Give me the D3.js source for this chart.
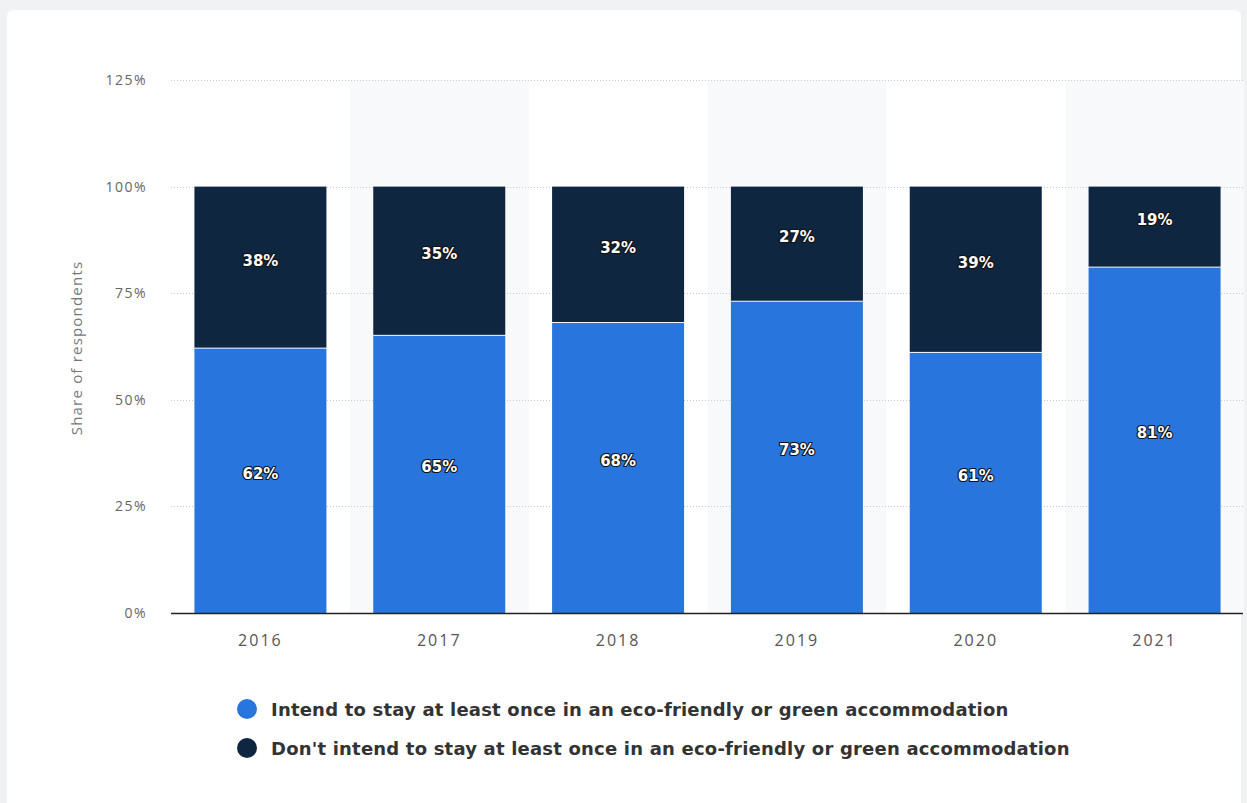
<!DOCTYPE html>
<html>
<head>
<meta charset="utf-8">
<script src="https://cdn.jsdelivr.net/npm/d3@7"></script>
<style>
	body { margin: 0; background: #f1f2f4; }
	#root { width: 1247px; height: 803px; }
</style>
</head>
<body>
<div id="root"></div>
<script>
//chart values
const years = ["2016", "2017", "2018", "2019", "2020", "2021"];
const intendValues = [62, 65, 68, 73, 61, 81];
const dontIntendValues = [38, 35, 32, 27, 39, 19];
const yTicks = [0, 25, 50, 75, 100, 125];
const seriesNames = [
	"Intend to stay at least once in an eco-friendly or green accommodation",
	"Don't intend to stay at least once in an eco-friendly or green accommodation"
];
const seriesColors = ["#2876dd", "#0f2640"];

const width = 1247;
const height = 803;

const svg = d3.select("#root")
	.append("svg")
	.attr("width", width)
	.attr("height", height);

//white card
svg.append("rect")
	.attr("x", 7)
	.attr("y", 10)
	.attr("width", 1234)
	.attr("height", 820)
	.attr("rx", 6)
	.attr("fill", "white");

//scales
const xScale = d3.scaleBand()
	.domain(years)
	.range([171, 1244])
	.paddingInner(0)
	.paddingOuter(0);

const yScale = d3.scaleLinear()
	.domain([0, 125])
	.range([613, 80]);

const barWidth = 132;

//alternate shaded bands
svg.selectAll(".band")
	.data(years.filter((d, i) => i % 2 === 1))
	.enter()
	.append("rect")
	.attr("x", d => xScale(d))
	.attr("y", yScale(125))
	.attr("width", xScale.bandwidth())
	.attr("height", yScale(0) - yScale(125))
	.attr("fill", "#f8f9fa");

//gridlines
svg.selectAll(".grid")
	.data(yTicks.filter(d => d > 0))
	.enter()
	.append("line")
	.attr("x1", 171)
	.attr("x2", 1243)
	.attr("y1", d => Math.round(yScale(d)) + 0.5)
	.attr("y2", d => Math.round(yScale(d)) + 0.5)
	.attr("stroke", "#c8c8c8")
	.attr("stroke-dasharray", "1,2");

//stacked data
const rows = years.map((y, i) => ({year: y, a: intendValues[i], b: dontIntendValues[i]}));

//blue segments
svg.selectAll(".barA")
	.data(rows)
	.enter()
	.append("rect")
	.attr("x", d => xScale(d.year) + (xScale.bandwidth() - barWidth) / 2)
	.attr("y", d => yScale(d.a))
	.attr("width", barWidth)
	.attr("height", d => yScale(0) - yScale(d.a))
	.attr("fill", seriesColors[0]);

//dark segments
svg.selectAll(".barB")
	.data(rows)
	.enter()
	.append("rect")
	.attr("x", d => xScale(d.year) + (xScale.bandwidth() - barWidth) / 2)
	.attr("y", d => yScale(d.a + d.b))
	.attr("width", barWidth)
	.attr("height", d => yScale(d.a) - yScale(d.a + d.b) - 1)
	.attr("fill", seriesColors[1]);

//value labels
function addLabels(accessor, base) {
	svg.selectAll(null)
		.data(rows)
		.enter()
		.append("text")
		.attr("x", d => xScale(d.year) + xScale.bandwidth() / 2)
		.attr("y", d => (yScale(base(d)) + yScale(base(d) + accessor(d))) / 2 - 2)
		.attr("text-anchor", "middle")
		.attr("font-family", "'DejaVu Sans', sans-serif")
		.attr("font-weight", "bold")
		.attr("font-size", "15px")
		.attr("fill", "white")
		.attr("stroke", "#111")
		.attr("stroke-width", 2.2)
		.attr("stroke-linejoin", "round")
		.attr("paint-order", "stroke")
		.text(d => accessor(d) + "%");
}
addLabels(d => d.a, d => 0);
addLabels(d => d.b, d => d.a);

//x axis line
svg.append("line")
	.attr("x1", 171)
	.attr("x2", 1243)
	.attr("y1", 613.5)
	.attr("y2", 613.5)
	.attr("stroke", "#222")
	.attr("stroke-width", 1.3);

//x labels
svg.selectAll(".xlab")
	.data(years)
	.enter()
	.append("text")
	.attr("x", d => xScale(d) + xScale.bandwidth() / 2)
	.attr("y", 646)
	.attr("text-anchor", "middle")
	.attr("font-family", "'Open Sans', sans-serif")
	.attr("font-size", "16px")
	.attr("letter-spacing", "2px")
	.attr("fill", "#555")
	.text(d => d);

//y labels
svg.selectAll(".ylab")
	.data(yTicks)
	.enter()
	.append("text")
	.attr("x", 147)
	.attr("y", d => yScale(d) + 5)
	.attr("text-anchor", "end")
	.attr("font-family", "'Open Sans', sans-serif")
	.attr("font-size", "14px")
	.attr("letter-spacing", "1.5px")
	.attr("fill", "#666")
	.text(d => d + "%");

//y title
svg.append("text")
	.attr("transform", "translate(82, 348) rotate(-90)")
	.attr("text-anchor", "middle")
	.attr("font-family", "'Open Sans', sans-serif")
	.attr("font-size", "15px")
	.attr("letter-spacing", "1.2px")
	.attr("fill", "#777")
	.text("Share of respondents");

//legend
const legend = svg.selectAll(".legend")
	.data(seriesNames)
	.enter()
	.append("g")
	.attr("transform", (d, i) => "translate(247," + (709 + i * 39) + ")");

legend.append("circle")
	.attr("r", 10)
	.attr("fill", (d, i) => seriesColors[i]);

legend.append("text")
	.attr("x", 24)
	.attr("y", 7)
	.attr("font-family", "'DejaVu Sans', sans-serif")
	.attr("font-weight", "bold")
	.attr("font-size", "18px")
	.attr("letter-spacing", "0.2px")
	.attr("fill", "#333")
	.text(d => d);
</script>
</body>
</html>
